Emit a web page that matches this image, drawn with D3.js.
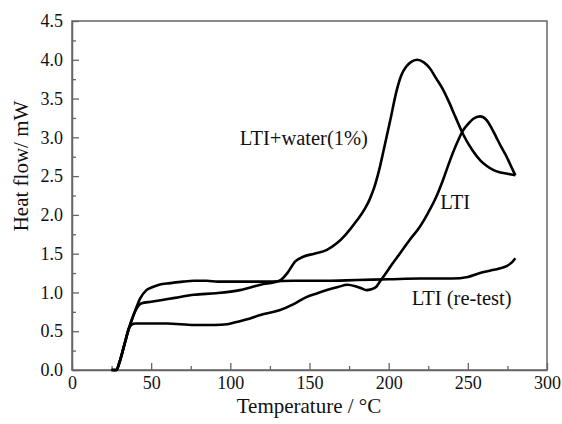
<!DOCTYPE html>
<html>
<head>
<meta charset="utf-8">
<script src="https://cdn.jsdelivr.net/npm/d3@7"></script>
<style>
  body { margin: 0; background: #fff; }
  svg { display: block; }
</style>
</head>
<body>
<svg width="562" height="424"></svg>
<script>
// temperature (°C) and heat flow (mW)
const waterT = [25,28,30,33,36,38,40,42,44,50,56,65,77,91,106,119,131,136,141,146,153,161,167,173,180,185,188,191,194,197,201,205,208,211,214,218,222,226,230,234.5,238,242,247,253,258,262,266,270,275,280];
const waterV = [0,0,0.1,0.32,0.54,0.66,0.76,0.83,0.86,0.88,0.90,0.93,0.97,0.99,1.03,1.10,1.15,1.25,1.40,1.46,1.50,1.55,1.63,1.75,1.93,2.08,2.2,2.36,2.58,2.85,3.22,3.6,3.8,3.91,3.97,4.0,3.97,3.89,3.76,3.61,3.46,3.27,3.04,2.83,2.70,2.63,2.58,2.55,2.53,2.51];

const ltiT = [25,28,30,33,36,38,40,44,50,60,77,90,98,104,110,119,131,140,148,155,161,168,174,179,183,186,189,192,194.5,198,202,207,213,219.8,225,230,234.5,238.7,243,247,250.5,253.5,257.7,262,265,268,271,274.5,277,280];
const ltiV = [0,0,0.1,0.32,0.54,0.59,0.60,0.60,0.60,0.60,0.58,0.58,0.59,0.62,0.65,0.71,0.77,0.85,0.94,0.99,1.03,1.07,1.10,1.08,1.05,1.03,1.04,1.07,1.14,1.24,1.36,1.50,1.67,1.85,2.03,2.23,2.46,2.70,2.92,3.09,3.18,3.24,3.27,3.22,3.12,3.0,2.88,2.75,2.64,2.51];

const retestT = [25,28,30,33,36,38,40,43,47,51,55,62,70,77,85,92,100,120,140,160,180,200,220,240,250,257.7,264,270,274.5,278,280];
const retestV = [0,0,0.1,0.32,0.54,0.66,0.77,0.92,1.03,1.07,1.10,1.12,1.14,1.15,1.15,1.14,1.14,1.14,1.15,1.15,1.16,1.17,1.18,1.18,1.20,1.25,1.28,1.31,1.34,1.39,1.44];

const xTicks = [0,50,100,150,200,250,300];
const yTicks = [0,0.5,1,1.5,2,2.5,3,3.5,4,4.5];

// curve labels: text, temperature, heat flow (baseline, left edge)
const labelText = ["LTI+water(1%)", "LTI", "LTI (re-test)"];
const labelT = [106, 232.5, 214.5];
const labelV = [2.9, 2.07, 0.84];

const svg = d3.select("svg");
const x = d3.scaleLinear().domain([0, 300]).range([72, 547]);
const y = d3.scaleLinear().domain([0, 4.5]).range([370, 21]);
const font = "'Liberation Serif', 'Times New Roman', serif";
const axisCol = "#666";

// minor ticks
const xMinor = d3.range(25, 300, 50);
const yMinor = d3.range(0.25, 4.5, 0.5);

svg.append("g").attr("transform", "translate(0,370)")
    .call(d3.axisBottom(x).tickValues(xTicks).tickFormat(d3.format("d"))
      .tickSizeInner(-7).tickSizeOuter(0).tickPadding(6));
svg.append("g").attr("transform", "translate(0,370)")
    .call(d3.axisBottom(x).tickValues(xMinor).tickFormat("").tickSizeInner(-4).tickSizeOuter(0))
    .select(".domain").remove();

svg.append("g").attr("transform", "translate(72,0)")
    .call(d3.axisLeft(y).tickValues(yTicks).tickFormat(d3.format(".1f"))
      .tickSizeInner(-7).tickSizeOuter(0).tickPadding(9));
svg.append("g").attr("transform", "translate(72,0)")
    .call(d3.axisLeft(y).tickValues(yMinor).tickFormat("").tickSizeInner(-4).tickSizeOuter(0))
    .select(".domain").remove();

svg.selectAll("g").attr("font-family", font);
svg.selectAll(".tick line").attr("stroke", axisCol).attr("stroke-width", 1.3);
svg.selectAll(".tick text").attr("font-family", font).attr("font-size", 18).attr("fill", "#111");
svg.selectAll(".domain").attr("stroke", axisCol).attr("stroke-width", 1.5);

// frame
svg.append("rect")
    .attr("x", x(0)).attr("y", y(4.5))
    .attr("width", x(300) - x(0)).attr("height", y(0) - y(4.5))
    .attr("fill", "none").attr("stroke", axisCol).attr("stroke-width", 1.5);

const line = d3.line()
    .x(d => x(d[0]))
    .y(d => y(d[1]))
    .curve(d3.curveMonotoneX);

const series = [
  d3.zip(waterT, waterV),
  d3.zip(ltiT, ltiV),
  d3.zip(retestT, retestV)
];

svg.append("g")
    .attr("fill", "none")
    .attr("stroke", "#000")
    .attr("stroke-width", 2.6)
    .attr("stroke-linejoin", "round")
  .selectAll("path")
  .data(series)
  .join("path")
    .attr("d", line);

svg.append("g")
    .attr("font-family", font)
    .attr("font-size", 20.5)
    .attr("fill", "#111")
  .selectAll("text")
  .data(labelText)
  .join("text")
    .attr("x", (d, i) => x(labelT[i]))
    .attr("y", (d, i) => y(labelV[i]))
    .text(d => d);

svg.append("text")
    .attr("x", 309).attr("y", 413)
    .attr("text-anchor", "middle")
    .attr("font-family", font).attr("font-size", 21).attr("fill", "#111")
    .text("Temperature / °C");

svg.append("text")
    .attr("transform", "translate(28,166) rotate(-90)")
    .attr("text-anchor", "middle")
    .attr("font-family", font).attr("font-size", 21).attr("fill", "#111")
    .text("Heat flow/ mW");
</script>
</body>
</html>
